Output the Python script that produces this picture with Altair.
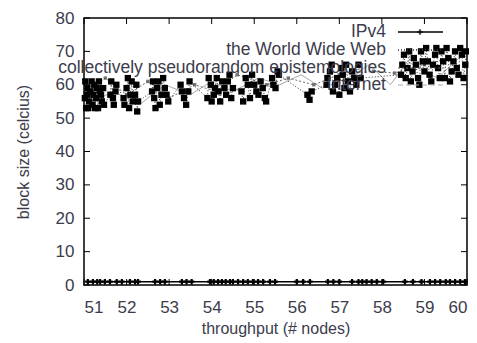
import altair as alt
import pandas as pd

# ---------------- data ----------------
x_ticks = [51, 52, 53, 54, 55, 56, 57, 58, 59, 60]
y_ticks = [0, 10, 20, 30, 40, 50, 60, 70, 80]

ipv4_x = [51.09, 51.21, 51.31, 51.38, 51.49, 51.61, 51.77, 51.89, 52.08, 52.20,
          52.27, 52.67, 52.79, 52.90, 53.30, 53.41, 53.53, 53.96, 54.05, 54.15,
          54.24, 54.33, 54.43, 54.50, 54.62, 54.74, 54.85, 54.97, 55.09, 55.21,
          55.37, 55.49, 56.00, 56.15, 56.31, 56.73, 56.86, 57.00, 57.30, 57.45,
          57.54, 57.64, 57.76, 57.88, 58.03, 58.54, 58.73, 58.93, 59.13, 59.25,
          59.37, 59.50, 59.60, 59.72, 59.84, 59.95]
ipv4_y = [1, 1, 1, 1, 1, 1, 1, 1, 1, 1,
          1, 1, 1, 1, 1, 1, 1, 1, 1, 1,
          1, 1, 1, 1, 1, 1, 1, 1, 1, 1,
          1, 1, 1, 1, 1, 1, 1, 1, 1, 1,
          1, 1, 1, 1, 1, 1, 1, 1, 1, 1,
          1, 1, 1, 1, 1, 1]

www_x = [51.02, 51.05, 51.08, 51.12, 51.15, 51.20, 51.24, 51.28, 51.33, 51.37,
         51.42, 51.45, 51.62, 51.70, 51.76, 51.93, 52.00, 52.06, 52.12, 52.20,
         52.27, 52.60, 52.68, 52.75, 52.82, 52.90, 52.98, 53.27, 53.35, 53.45,
         53.90, 53.98, 54.05, 54.12, 54.20, 54.30, 54.38, 54.46, 54.70, 54.80,
         54.90, 55.00, 55.10, 55.20, 55.28, 55.42, 55.50, 55.58, 56.25, 56.35,
         56.70, 56.78, 56.85, 56.95, 57.05, 57.12, 57.20, 57.30, 57.40, 57.50,
         58.45, 58.52, 58.60, 58.68, 58.75, 58.85, 58.92, 59.00, 59.08, 59.16,
         59.25, 59.32, 59.40, 59.48, 59.56, 59.64, 59.72, 59.80, 59.88, 59.96,
         51.03, 51.07, 51.10, 51.18, 51.22, 51.26, 51.30, 51.35, 51.40, 51.47,
         51.64, 51.68, 51.74, 51.95, 52.03, 52.09, 52.15, 52.23, 52.25,
         52.62, 52.65, 52.72, 52.78, 52.86, 52.94,
         53.30, 53.40, 53.48,
         53.93, 54.00, 54.08, 54.16, 54.25, 54.34, 54.42, 54.50,
         54.74, 54.85, 54.95, 55.05, 55.15, 55.25,
         55.45, 55.55, 56.30,
         56.72, 56.82, 56.90, 57.00, 57.08, 57.16, 57.25, 57.35, 57.45,
         58.48, 58.56, 58.64, 58.72, 58.80, 58.88, 58.96, 59.04, 59.12, 59.20,
         59.28, 59.36, 59.44, 59.52, 59.60, 59.68, 59.76, 59.84, 59.92, 59.98]
www_y = [56, 53, 59, 55, 58, 54, 60, 56, 53, 58,
         55, 59, 57, 54, 60, 56, 59, 53, 61, 57,
         55, 58, 53, 61, 57, 59, 55, 60, 56, 58,
         56, 60, 57, 62, 55, 59, 61, 56, 58, 62,
         56, 60, 57, 59, 55, 62, 59, 63, 57, 58,
         60, 64, 58, 62, 65, 59, 61, 64, 60, 62,
         63, 69, 65, 61, 68, 62, 70, 64, 67, 61,
         69, 65, 70, 62, 68, 64, 70, 63, 69, 66,
         61, 57, 53, 61, 57, 53, 59, 61, 57, 54,
         61, 56, 58, 54, 62, 57, 55, 60, 52,
         61, 56, 59, 54, 62, 57,
         58, 54, 61,
         62, 55, 59, 58, 61, 57, 63, 59,
         55, 60, 63, 58, 61, 56,
         60, 64, 55.5,
         62, 66, 60, 57, 63, 66, 58, 62, 66,
         66, 62, 70, 64, 66, 60, 67, 71, 63, 66,
         71, 62, 67, 71, 61, 67, 65, 71, 62, 70]

coll_x = [51.10, 51.50, 52.00, 52.50, 53.00, 53.60, 54.10, 54.60, 55.30, 55.80,
          56.40, 57.00, 57.80, 58.30, 59.00, 59.60]
coll_y = [58, 62, 57, 61, 56, 60, 58, 63, 60, 62,
          60, 63, 64, 63.5, 66, 68]

inet_x = [51.20, 51.70, 52.30, 52.90, 53.50, 54.00, 54.50, 55.10, 55.60, 56.10,
          56.60, 57.20, 57.70, 58.20, 58.60, 59.30, 59.90]
inet_y = [55, 58, 54, 60, 57, 61, 58, 62, 60, 63,
          59, 62, 66, 60, 67, 62, 69]

legend_names = ["IPv4", "the World Wide Web",
                "collectively pseudorandom epistemologies", "Internet"]

# ---------------- layout ----------------
W, H = 383, 267
FONT = "Liberation Sans"
TXT = "#3c3c4c"

xs = alt.Scale(domain=[51, 60], nice=False, zero=False)
ys = alt.Scale(domain=[0, 80], nice=False)

df_ipv4 = pd.DataFrame({"x": ipv4_x, "y": ipv4_y})
df_www = pd.DataFrame({"x": www_x, "y": www_y})
df_coll = pd.DataFrame({"x": coll_x, "y": coll_y})
df_inet = pd.DataFrame({"x": inet_x, "y": inet_y})

xaxis = alt.Axis(values=x_ticks, title="throughput (# nodes)",
                 domain=False, ticks=False, grid=False,
                 labelFont=FONT, titleFont=FONT, labelFontSize=17, titleFontSize=16,
                 labelColor=TXT, titleColor=TXT, titleFontWeight="normal",
                 labelPadding=14, titlePadding=5)
yaxis = alt.Axis(values=y_ticks, title="block size (celcius)",
                 domain=False, ticks=False, grid=False,
                 labelFont=FONT, titleFont=FONT, labelFontSize=17, titleFontSize=16,
                 labelColor=TXT, titleColor=TXT, titleFontWeight="normal",
                 labelPadding=10, titlePadding=24)
xenc = alt.X("x:Q", scale=xs, axis=xaxis)
yenc = alt.Y("y:Q", scale=ys, axis=yaxis)

inet_line = alt.Chart(df_inet).mark_line(color="#aaaaaa", strokeWidth=1).encode(x=xenc, y=yenc)
coll_line = alt.Chart(df_coll).mark_line(color="#666666", strokeWidth=1,
                                         strokeDash=[2, 2]).encode(x=xenc, y=yenc)
coll_pts = alt.Chart(df_coll).mark_point(shape="square", filled=True, color="#444444",
                                         size=12).encode(x=xenc, y=yenc)
www_line = alt.Chart(df_www).mark_line(color="#333333", strokeWidth=1,
                                       strokeDash=[1, 2]).encode(x=xenc, y=yenc)
www_pts = alt.Chart(df_www).mark_point(shape="square", filled=True, color="black",
                                       opacity=1, size=40).encode(x=xenc, y=yenc)
ipv4_line = alt.Chart(df_ipv4).mark_line(color="black", strokeWidth=1.5).encode(x=xenc, y=yenc)
ipv4_pts = alt.Chart(df_ipv4).mark_point(shape="cross", filled=True, color="black",
                                         size=30, opacity=1).encode(x=xenc, y=yenc)

# inward ticks (gnuplot style)
df_xt = pd.DataFrame({"x": x_ticks})
df_yt = pd.DataFrame({"y": y_ticks})
tick_len = 6
xt_bottom = alt.Chart(df_xt).mark_rule(color="black").encode(
    x=xenc, y=alt.value(H), y2=alt.value(H - tick_len))
xt_top = alt.Chart(df_xt).mark_rule(color="black").encode(
    x=xenc, y=alt.value(0), y2=alt.value(tick_len))
yt_left = alt.Chart(df_yt).mark_rule(color="black").encode(
    y=yenc, x=alt.value(0), x2=alt.value(tick_len))
yt_right = alt.Chart(df_yt).mark_rule(color="black").encode(
    y=yenc, x=alt.value(W), x2=alt.value(W - tick_len))

# legend (gnuplot style: label right-aligned, sample to its right)
row_y = [14, 32, 50, 67]
leg_layers = []
samples = [
    dict(color="black", strokeWidth=1.5),
    dict(color="#333333", strokeWidth=1.5, strokeDash=[1, 2]),
    dict(color="#555555", strokeWidth=1.2, strokeDash=[2, 2]),
    dict(color="#aaaaaa", strokeWidth=1.2, strokeDash=[5, 3]),
]
for i, name in enumerate(legend_names):
    d = pd.DataFrame({"name": [name]})
    leg_layers.append(
        alt.Chart(d).mark_text(align="right", baseline="middle", font=FONT,
                               fontSize=17.5, color=TXT).encode(
            text="name:N", x=alt.value(302), y=alt.value(row_y[i])))
    leg_layers.append(
        alt.Chart(d).mark_rule(**samples[i]).encode(
            x=alt.value(314), x2=alt.value(359), y=alt.value(row_y[i])))
leg_layers.append(
    alt.Chart(pd.DataFrame({"name": ["IPv4"]})).mark_point(
        shape="cross", filled=True, color="black", size=30).encode(
        x=alt.value(336), y=alt.value(row_y[0])))

chart = alt.layer(
    inet_line, coll_line, coll_pts, www_line, www_pts, ipv4_line, ipv4_pts,
    xt_bottom, xt_top, yt_left, yt_right, *leg_layers
).properties(
    width=W, height=H,
    background="white",
    autosize=alt.AutoSizeParams(type="none"),
    padding={"left": 76, "top": 10, "right": 2, "bottom": 58},
).configure_view(
    stroke="black", strokeWidth=1.5
)

chart.save("out.html", embed_options={"renderer": "svg", "actions": False})
